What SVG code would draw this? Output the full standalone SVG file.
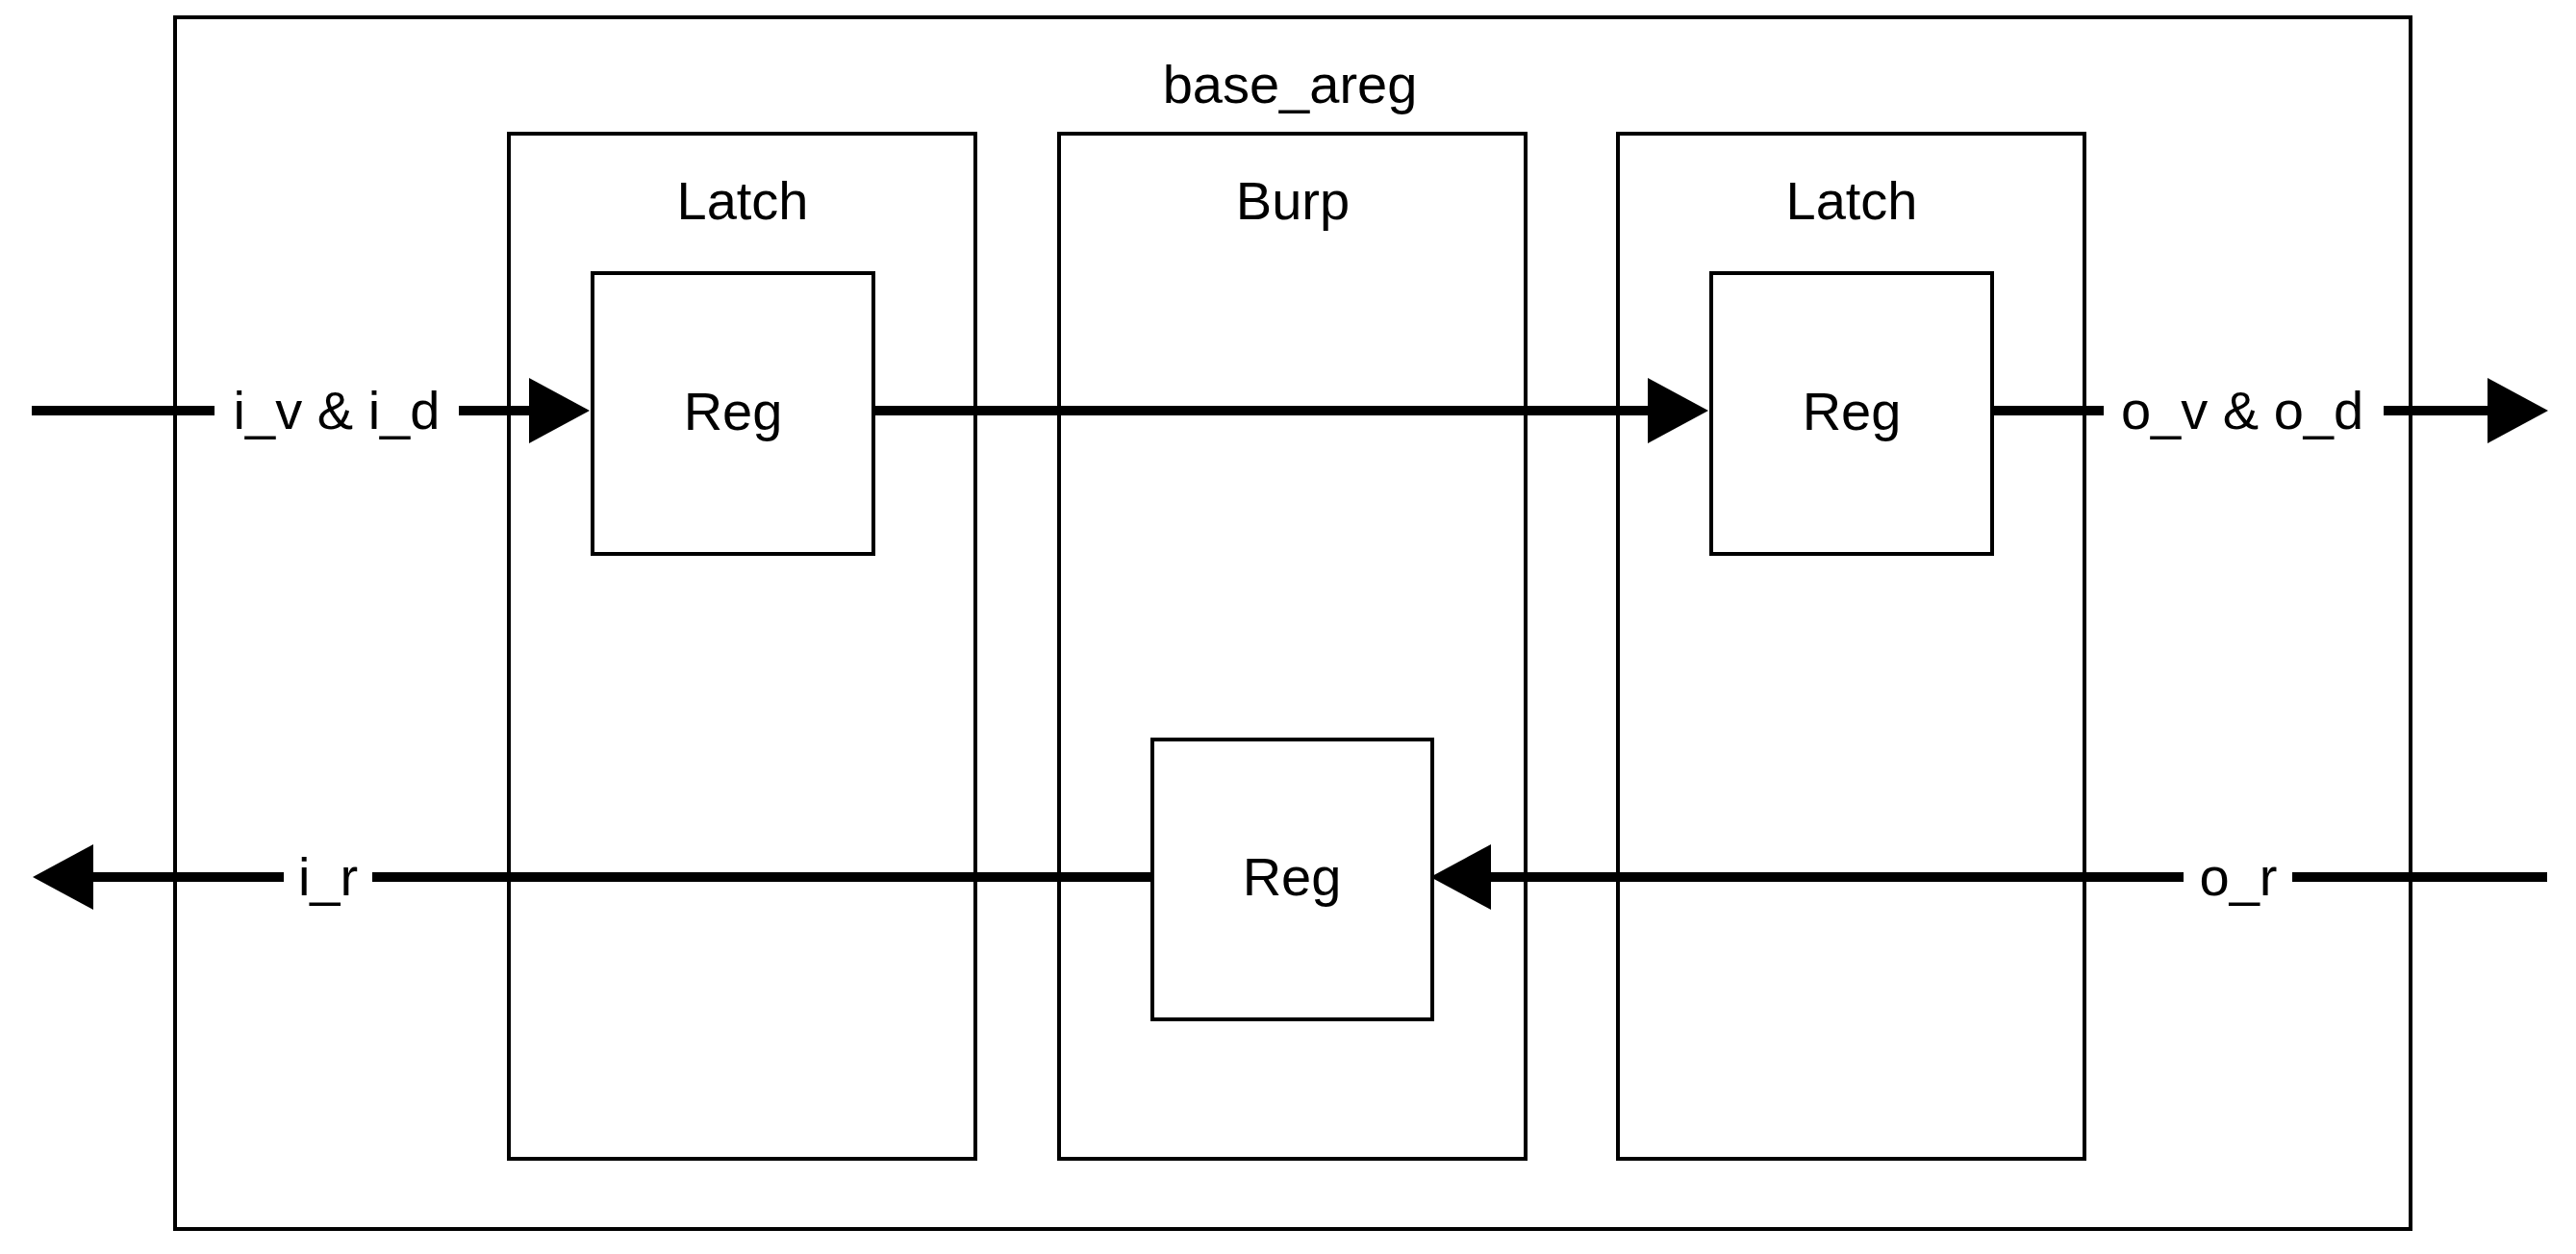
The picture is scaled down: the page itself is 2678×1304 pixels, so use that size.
<svg xmlns="http://www.w3.org/2000/svg" width="2678" height="1304" viewBox="0 0 2678 1304">
<style>
.box{fill:#fff;stroke:#000;stroke-width:4}
.t{font-family:"Liberation Sans",Arial,sans-serif;font-size:56px;fill:#000;text-anchor:middle}
.wire{fill:none;stroke:#000;stroke-width:10}
.bg{fill:#fff}
</style>
<defs>
<marker id="arr" markerUnits="userSpaceOnUse" markerWidth="64" markerHeight="70" refX="0" refY="34" orient="auto">
<path d="M0,0 L63,34 L0,68 Z" fill="#000"/>
</marker>
</defs>
<rect width="2678" height="1304" fill="#fff"/>
<g id="base_areg">
<rect class="box" x="182" y="18" width="2324" height="1260"/>
<text class="t" x="1341" y="107">base_areg</text>
</g>
<g id="latch1">
<rect class="box" x="529" y="139" width="485" height="1066"/>
<text class="t" x="772" y="228">Latch</text>
</g>
<g id="burp">
<rect class="box" x="1101" y="139" width="485" height="1066"/>
<text class="t" x="1344" y="228">Burp</text>
</g>
<g id="latch2">
<rect class="box" x="1682" y="139" width="485" height="1066"/>
<text class="t" x="1925" y="228">Latch</text>
</g>
<g id="reg1">
<rect class="box" x="616" y="284" width="292" height="292"/>
<text class="t" x="762" y="447">Reg</text>
</g>
<g id="reg2">
<rect class="box" x="1779" y="284" width="292" height="292"/>
<text class="t" x="1925" y="447">Reg</text>
</g>
<g id="reg3">
<rect class="box" x="1198" y="769" width="291" height="291"/>
<text class="t" x="1343" y="931">Reg</text>
</g>
<g id="connectors">
<path class="wire" d="M33,427 H550" marker-end="url(#arr)"/>
<rect class="bg" x="223" y="415" width="254" height="24"/>
<text class="t" x="350" y="446">i_v &amp; i_d</text>
<path class="wire" d="M908,427 H1713" marker-end="url(#arr)"/>
<path class="wire" d="M2071,427 H2586" marker-end="url(#arr)"/>
<rect class="bg" x="2187" y="415" width="291" height="24"/>
<text class="t" x="2331" y="446">o_v &amp; o_d</text>
<path class="wire" d="M2648,912 H1550" marker-end="url(#arr)"/>
<rect class="bg" x="2270" y="900" width="113" height="24"/>
<text class="t" x="2327" y="931">o_r</text>
<path class="wire" d="M1198,912 H97" marker-end="url(#arr)"/>
<rect class="bg" x="295" y="900" width="92" height="24"/>
<text class="t" x="341" y="931">i_r</text>
</g>
</svg>
